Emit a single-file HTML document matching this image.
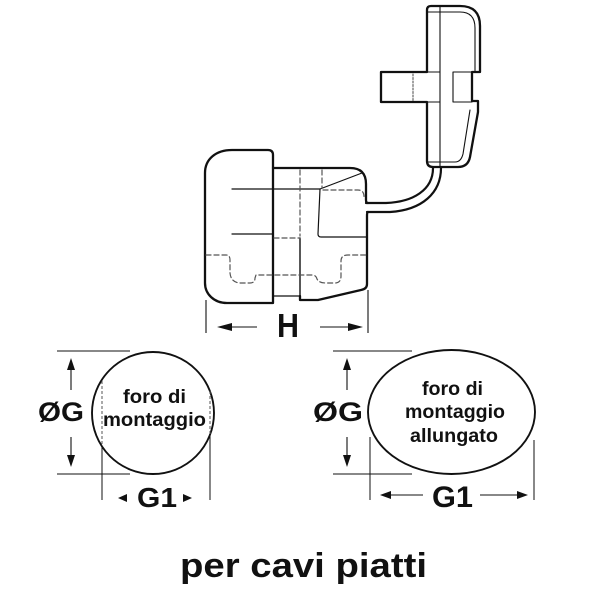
<!DOCTYPE html>
<html>
<head>
<meta charset="utf-8">
<style>
  html,body{margin:0;padding:0;background:#fff;}
  svg{display:block;}
  text{font-family:"Liberation Sans","DejaVu Sans",sans-serif;font-weight:bold;fill:#111;}
</style>
</head>
<body>
<svg width="600" height="600" viewBox="0 0 600 600" xmlns="http://www.w3.org/2000/svg">
  <rect width="600" height="600" fill="#fff"/>

  <!-- ===== Top-right cap ===== -->
  <g fill="none" stroke="#111" stroke-linejoin="round" stroke-linecap="round">
    <path d="M431,6 L460,6 Q480,6 480,26 L480,72 L472,72 L472,101 L478,101 L478,112 L470,157 Q468,167 458,167 L433,167 Q427,167 427,161 L427,102 L381,102 L381,72 L427,72 L427,10 Q427,6 431,6 Z" stroke-width="2.3"/>
    <!-- inner lines -->
    <path d="M440,6 L440,167" stroke-width="1.1"/>
    <path d="M427,12 L460,12 Q475,12 475,28 L475,72" stroke-width="1.1"/>
    <path d="M470,110 L463,154 Q461,162 455,162 L427,162" stroke-width="1.1"/>
    <path d="M427,72 L440,72 M427,102 L440,102" stroke-width="1.1"/>
    <path d="M453,72 L453,102 M453,72 L472,72 M453,102 L472,102" stroke-width="1.1"/>
    <path d="M413,74 L413,101" stroke-width="1" stroke-dasharray="2,1.5" stroke="#444"/>
  </g>

  <!-- cable -->
  <g fill="none" stroke="#111" stroke-width="2.2" stroke-linecap="round">
    <path d="M366,203 L386,203 C413,202 433,190 433,168"/>
    <path d="M367,212 L390,212 C422,210 441,193 441,168"/>
  </g>

  <!-- ===== Body (gland) ===== -->
  <g fill="none" stroke="#111" stroke-linejoin="round" stroke-linecap="round">
    <!-- nut / cap left -->
    <path d="M205,173 C205,159 216,150 232,150 L268,150 Q273,150 273,155 L273,303 L227,303 C214,303 205,294 205,283 Z" stroke-width="2.3"/>
    <!-- body outline -->
    <path d="M273,168 L350,168 Q366,168 366,184 L366,200 Q366,203 368,203" stroke-width="2.3"/>
    <path d="M368,212 Q367,212 367,216 L367,284 Q367,289 361,290 L318,300 L300,300 L300,296" stroke-width="2.3"/>
    <path d="M273,296 L300,296" stroke-width="1.2"/>
    <!-- internal solid lines -->
    <path d="M232,189 L320,189" stroke-width="1.2"/>
    <path d="M232,234 L273,234" stroke-width="1.2"/>
    <path d="M320,189 L362,173" stroke-width="1.2"/>
    <path d="M320,189 L318,234 Q318,237 321,237 L367,237" stroke-width="1.2"/>
    <path d="M300,238 L300,296" stroke-width="1.4"/>
    <!-- dashed -->
    <g stroke="#555" stroke-width="1.2" stroke-dasharray="5,3">
      <path d="M300,170 L300,236"/>
      <path d="M322,170 L322,188"/>
      <path d="M274,238 L300,238"/>
      <path d="M323,190 L358,190 Q364,190 364,197"/>
      <path d="M206,255 L226,255 Q230,255 230,260 L230,273 Q231,283 241,283 L250,283 Q255,283 255,278 L256,275 L312,275 Q316,275 317,279 Q319,283 326,283 L335,283 Q341,283 341,276 L341,261 Q341,255 348,255 L366,255"/>
    </g>
  </g>

  <!-- H dimension -->
  <g stroke="#111" stroke-width="1.1" fill="none">
    <path d="M206,300 L206,333"/>
    <path d="M368,290 L368,333"/>
    <path d="M230,327 L257,327"/>
    <path d="M320,327 L349,327"/>
  </g>
  <polygon points="217,327 232,323 232,331" fill="#111"/>
  <polygon points="363,327 348,323 348,331" fill="#111"/>
  <text x="277" y="337" font-size="33" textLength="22" lengthAdjust="spacingAndGlyphs">H</text>

  <!-- ===== Left: circle ===== -->
  <g fill="none" stroke="#111">
    <circle cx="153" cy="413" r="61" stroke-width="1.9"/>
    <path d="M57,351 L130,351 M57,474 L130,474" stroke-width="1"/>
    <path d="M71,368 L71,390 M71,437 L71,458" stroke-width="1.1"/>
    <path d="M102,446 L102,500 M210,435 L210,500" stroke-width="1"/>
    <path d="M102,381 L102,445 M210,391 L210,435" stroke="#555" stroke-width="1" stroke-dasharray="3,2"/>
  </g>
  <polygon points="71,358 67,370 75,370" fill="#111"/>
  <polygon points="71,467 67,455 75,455" fill="#111"/>
  <text x="38" y="421" font-size="27" textLength="46" lengthAdjust="spacingAndGlyphs">ØG</text>
  <text x="123" y="403" font-size="19.5" textLength="63" lengthAdjust="spacingAndGlyphs">foro di</text>
  <text x="103" y="426" font-size="19.5" textLength="103" lengthAdjust="spacingAndGlyphs">montaggio</text>
  <polygon points="118,498 127,494 127,502" fill="#111"/>
  <polygon points="192,498 183,494 183,502" fill="#111"/>
  <text x="137" y="507" font-size="28" textLength="40" lengthAdjust="spacingAndGlyphs">G1</text>

  <!-- ===== Right: elongated ===== -->
  <g fill="none" stroke="#111">
    <ellipse cx="451.5" cy="412" rx="83.5" ry="62" stroke-width="1.9"/>
    <path d="M333,351 L412,351 M333,474 L412,474" stroke-width="1"/>
    <path d="M347,368 L347,390 M347,437 L347,458" stroke-width="1.1"/>
    <path d="M370,437 L370,500 M534,440 L534,500" stroke-width="1"/>
    <path d="M388,495 L423,495 M480,495 L520,495" stroke-width="1.1"/>
  </g>
  <polygon points="347,358 343,370 351,370" fill="#111"/>
  <polygon points="347,467 343,455 351,455" fill="#111"/>
  <polygon points="380,495 391,491 391,499" fill="#111"/>
  <polygon points="528,495 517,491 517,499" fill="#111"/>
  <text x="313" y="421" font-size="27" textLength="50" lengthAdjust="spacingAndGlyphs">ØG</text>
  <text x="422" y="395" font-size="19.5" textLength="61" lengthAdjust="spacingAndGlyphs">foro di</text>
  <text x="405" y="418" font-size="19.5" textLength="100" lengthAdjust="spacingAndGlyphs">montaggio</text>
  <text x="410" y="442" font-size="19.5" textLength="88" lengthAdjust="spacingAndGlyphs">allungato</text>
  <text x="432" y="507" font-size="30" textLength="41" lengthAdjust="spacingAndGlyphs">G1</text>

  <!-- caption -->
  <text x="180" y="577" font-size="34" textLength="247" lengthAdjust="spacingAndGlyphs">per cavi piatti</text>
</svg>
</body>
</html>
